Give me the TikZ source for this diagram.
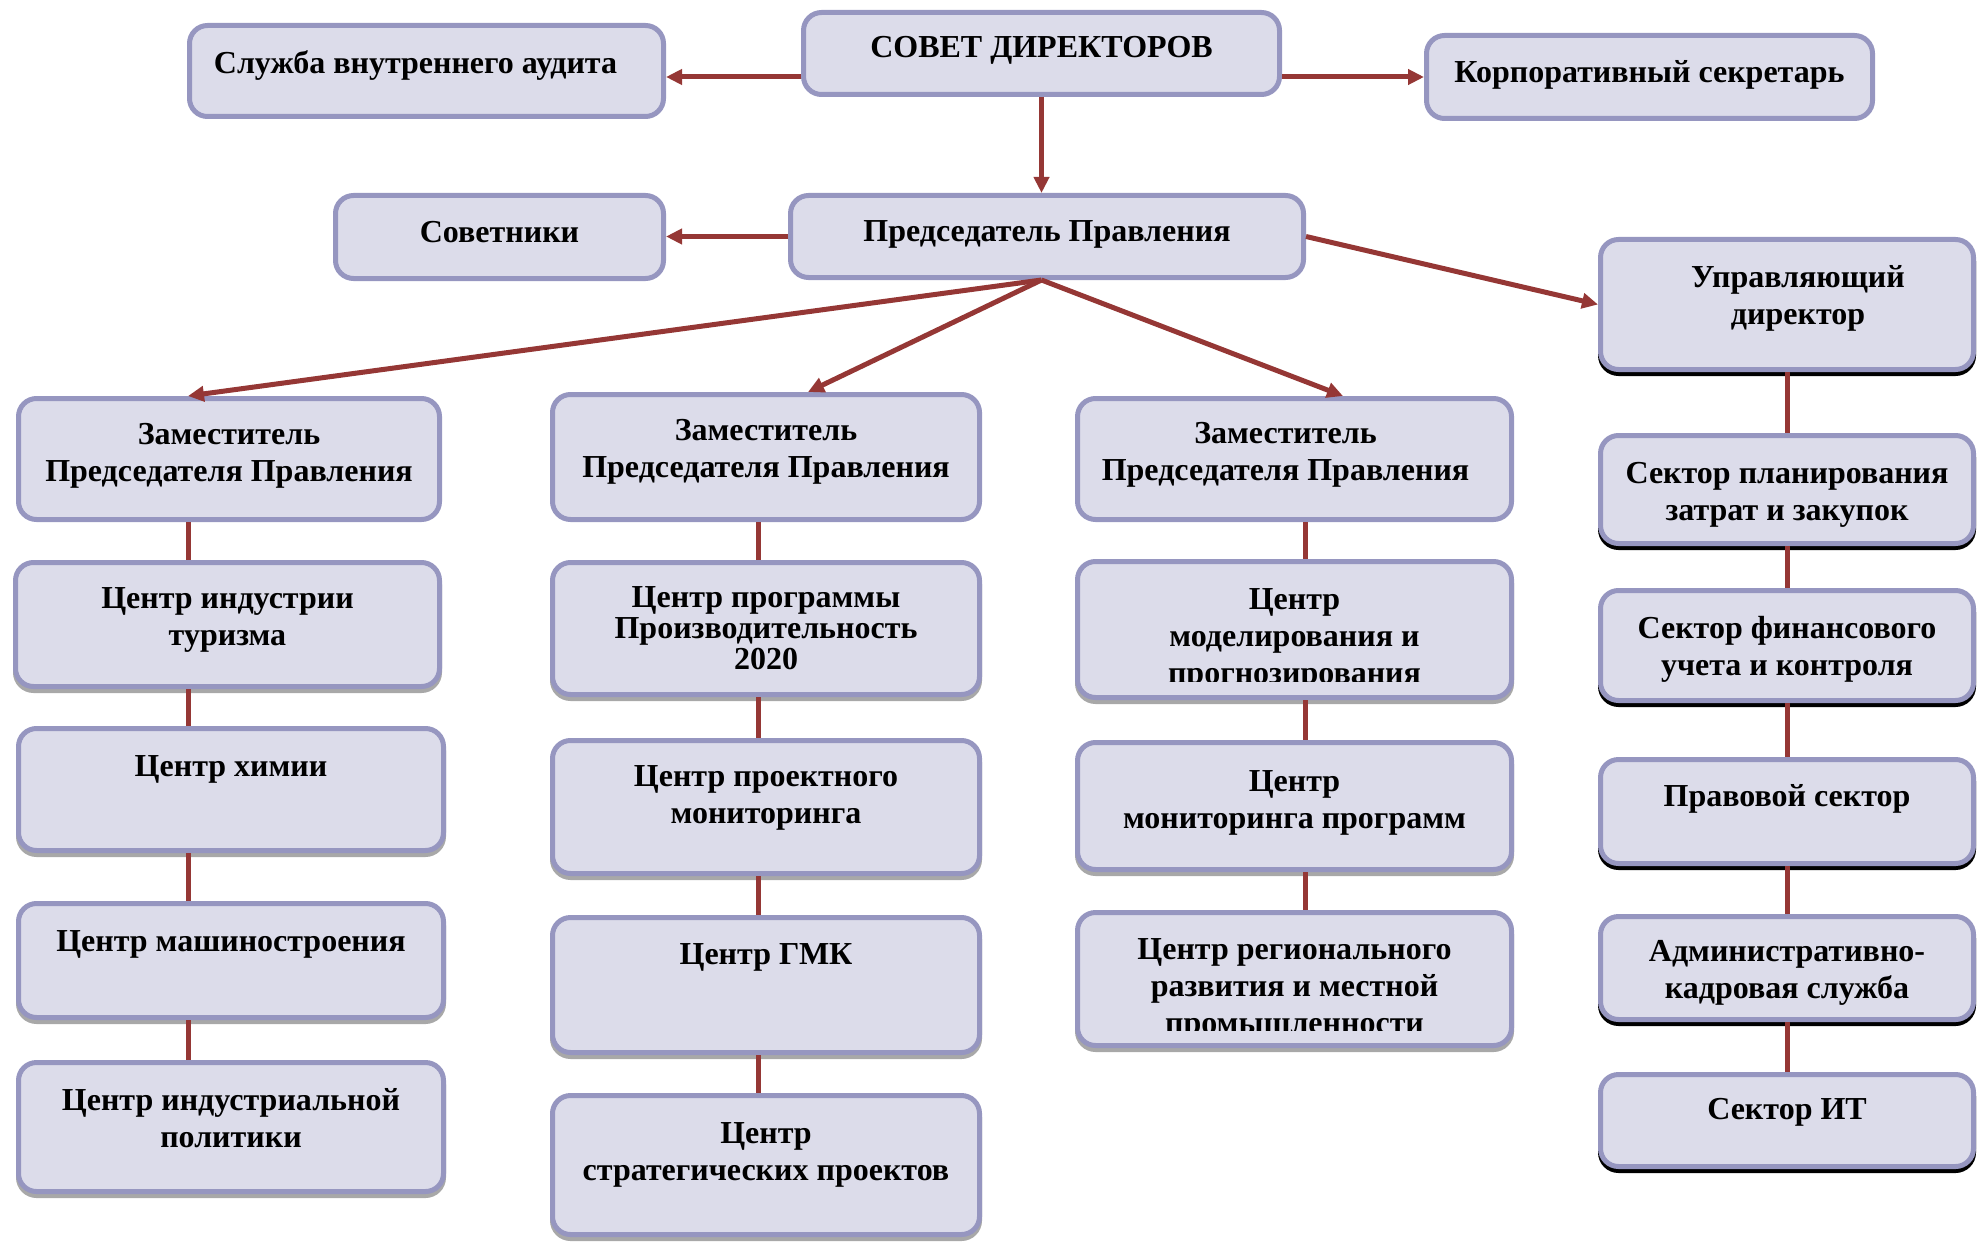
\documentclass[tikz,border=0pt]{standalone}
\usepackage{fontspec}
\setmainfont{Liberation Serif}
\usetikzlibrary{arrows.meta,calc,shadows}
\definecolor{boxfill}{HTML}{DCDCEA}
\definecolor{boxline}{HTML}{9696C0}
\definecolor{arrowred}{HTML}{953735}
\definecolor{shadowgrey}{HTML}{A8A8A8}
\tikzset{
  box/.style={draw=boxline, fill=boxfill, line width=2.5pt, rounded corners=9pt, inner sep=0pt},
  gshadow/.style={drop shadow={shadow xshift=0pt, shadow yshift=-2pt, fill=shadowgrey, draw=shadowgrey, line width=2.5pt, opacity=1}},
  kshadow/.style={drop shadow={shadow xshift=0pt, shadow yshift=-2pt, fill=black, draw=black, line width=2.5pt, opacity=1}},
  txt/.style={align=center, inner sep=0pt, font=\fontsize{16}{18.5}\selectfont\bfseries},
  txttight/.style={align=center, inner sep=0pt, font=\fontsize{16}{15.5}\selectfont\bfseries},
  conn/.style={draw=arrowred, line width=2.5pt},
  arr/.style={conn, -{Triangle[length=8pt,width=7.5pt]}},
}
% #1 name, #2 x1, #3 y1, #4 x2, #5 y2, #6 cap top y, #7 text, #8 box style, #9 text style
\newcommand\orgbox[9]{%
  \node[box,#8,minimum width={(#4-#2-5)*0.5pt},minimum height={(#5-#3-5)*0.5pt}] (#1) at ({(#2+#4)/2},{(#3+#5)/2}) {};
  \node[#9,anchor=north] (#1t) at ({(#2+#4)/2},#6) {#7};}
% clipped text variant: #9 clip bottom y
\newcommand\orgboxclip[9]{%
  \node[box,#8,minimum width={(#4-#2-5)*0.5pt},minimum height={(#5-#3-5)*0.5pt}] (#1) at ({(#2+#4)/2},{(#3+#5)/2}) {};
  \begin{scope}
    \clip (#2,#3) rectangle (#4,#9);
    \node[txt,anchor=north] (#1t) at ({(#2+#4)/2},#6) {#7};
  \end{scope}}
\begin{document}
\begin{tikzpicture}[x=0.5pt,y=-0.5pt]
\useasboundingbox (0,0) rectangle (1979,1241);

% top
\orgbox{sluzhba}{187}{23}{666}{119}{50}{Служба внутреннего аудита}{}{txt,xshift=-5.5pt}
\orgbox{sovet}{801}{10}{1282}{97}{36}{СОВЕТ ДИРЕКТОРОВ}{}{txt}
\orgbox{korp}{1424}{33}{1875}{121}{60}{Корпоративный секретарь}{}{txt}
\orgbox{sovetniki}{333}{193}{666}{281}{221}{Советники}{}{txt}
\orgbox{pred}{788}{193}{1306}{280}{220}{Председатель Правления}{}{txt}
\orgbox{upr}{1598}{237}{1976}{372}{265}{Управляющий\\директор}{kshadow}{txt,xshift=5.5pt}

% column 4
\orgbox{plan}{1598}{433}{1976}{546}{462}{Сектор планирования\\затрат и закупок}{kshadow}{txt}
\orgbox{fin}{1598}{588}{1976}{703}{616}{Сектор финансового\\учета и контроля}{kshadow}{txt}
\orgbox{legal}{1598}{757}{1976}{866}{784}{Правовой сектор}{kshadow}{txt}
\orgbox{admin}{1598}{914}{1976}{1022}{940}{Административно-\\кадровая служба}{kshadow}{txt}
\orgbox{it}{1598}{1072}{1976}{1169}{1098}{Сектор ИТ}{kshadow}{txt}

% column 1
\orgbox{zam1}{16}{396}{442}{522}{423}{Заместитель\\Председателя Правления}{}{txt}
\orgbox{tur}{13}{560}{442}{689}{587}{Центр индустрии\\туризма}{gshadow}{txt}
\orgbox{him}{16}{726}{446}{853}{755}{Центр химии}{gshadow}{txt}
\orgbox{mash}{16}{901}{446}{1020}{930}{Центр машиностроения}{gshadow}{txt}
\orgbox{polit}{16}{1060}{446}{1194}{1088}{Центр индустриальной\\политики}{gshadow}{txt}

% column 2
\orgbox{zam2}{550}{392}{982}{522}{419}{Заместитель\\Председателя Правления}{}{txt}
\orgbox{prog}{550}{560}{982}{697}{586}{Центр программы\\Производительность\\2020}{gshadow}{txttight}
\orgbox{proekt}{550}{738}{982}{876}{765}{Центр проектного\\мониторинга}{gshadow}{txt}
\orgbox{gmk}{550}{915}{982}{1055}{943}{Центр ГМК}{gshadow}{txt}
\orgbox{strat}{550}{1093}{982}{1237}{1122}{Центр\\стратегических проектов}{gshadow}{txt}

% column 3
\orgbox{zam3}{1075}{396}{1514}{522}{422}{Заместитель\\Председателя Правления}{}{txt,xshift=-4.5pt}
\orgboxclip{model}{1075}{559}{1514}{700}{588}{Центр\\моделирования и\\прогнозирования}{gshadow}{681}
\orgbox{monit}{1075}{740}{1514}{872}{770}{Центр\\мониторинга программ}{gshadow}{txt}
\orgboxclip{region}{1075}{910}{1514}{1048}{938}{Центр регионального\\развития и местной\\промышленности}{gshadow}{1030}

% helper coordinates
\coordinate (c1) at (188,0);
\coordinate (c2) at (758,0);
\coordinate (c3) at (1305,0);
\coordinate (t2) at (808,0);
\coordinate (t3) at (1343,0);
\coordinate (fan) at (sovet.south |- pred.south);

% arrows
\draw[arr] (sovet.south) -- (sovet.south |- pred.north);
\draw[arr] (sovet.west |- korp.center) -- (sluzhba.east |- korp.center);
\draw[arr] (sovet.east |- korp.center) -- (korp.west);
\draw[arr] (pred.west) -- (sovetniki.east |- pred.west);
\draw[arr] (pred.east) -- (upr.west);
\draw[arr] (fan) -- (zam1.north -| c1);
\draw[arr] (fan) -- (zam2.north -| t2);
\draw[arr] (fan) -- (zam3.north -| t3);

% column connectors
\draw[conn] (zam1.south -| c1) -- (tur.north -| c1);
\draw[conn] (tur.south -| c1) -- (him.north -| c1);
\draw[conn] (him.south -| c1) -- (mash.north -| c1);
\draw[conn] (mash.south -| c1) -- (polit.north -| c1);

\draw[conn] (zam2.south -| c2) -- (prog.north -| c2);
\draw[conn] (prog.south -| c2) -- (proekt.north -| c2);
\draw[conn] (proekt.south -| c2) -- (gmk.north -| c2);
\draw[conn] (gmk.south -| c2) -- (strat.north -| c2);

\draw[conn] (zam3.south -| c3) -- (model.north -| c3);
\draw[conn] (model.south -| c3) -- (monit.north -| c3);
\draw[conn] (monit.south -| c3) -- (region.north -| c3);

\draw[conn] (upr.south) -- (plan.north);
\draw[conn] (plan.south) -- (fin.north);
\draw[conn] (fin.south) -- (legal.north);
\draw[conn] (legal.south) -- (admin.north);
\draw[conn] (admin.south) -- (it.north);
\end{tikzpicture}
\end{document}
